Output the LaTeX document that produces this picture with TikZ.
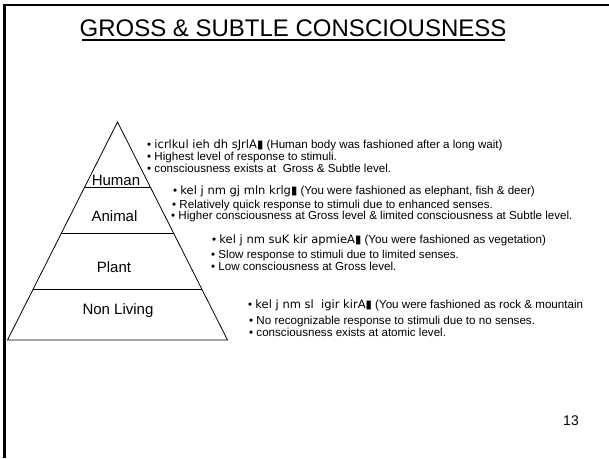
\documentclass[tikz,border=0pt]{standalone}
\usepackage{fontspec}
\setmainfont{Liberation Sans}
\newfontfamily\dvfont{DejaVu Sans}
\usetikzlibrary{calc}
\newcommand{\legacytxt}[1]{{\dvfont\fontsize{11.5}{13}\selectfont #1}}
\begin{document}
\begin{tikzpicture}[x=1pt,y=-1pt,
  body/.style={anchor=west, inner sep=0pt, font=\fontsize{11.6}{13}\selectfont},
  lvl/.style={inner sep=0pt, font=\fontsize{15}{17}\selectfont},
  pyr/.style={line width=0.8pt}]
\useasboundingbox (0,0) rectangle (609,458);
\fill[white] (0,0) rectangle (609,458);
% frame
\draw[line width=2pt] (3,4.5) -- (609,4.5);
\draw[line width=2.4pt] (4.5,3.5) -- (4.5,458);
% title
\node[inner sep=0pt, font=\fontsize{24}{28}\selectfont] (title) at (293,28) {GROSS \& SUBTLE CONSCIOUSNESS};
\draw[line width=1.5pt] (81.5,40) -- (505,40);
% pyramid
\coordinate (A) at (117.5,122);
\coordinate (BL) at (7.5,340);
\coordinate (BR) at (227.5,340);
\draw[pyr] (BL) -- (A) -- (BR) -- cycle;
\draw[pyr] ($(A)!0.2982!(BL)$) -- ($(A)!0.2982!(BR)$);
\draw[pyr] ($(A)!0.5092!(BL)$) -- ($(A)!0.5092!(BR)$);
\draw[pyr] ($(A)!0.7674!(BL)$) -- ($(A)!0.7674!(BR)$);
\node[lvl] (human) at (116,180.5) {Human};
\node[lvl] (animal) at (114.5,216) {Animal};
\node[lvl] (plant) at (114,267) {Plant};
\node[lvl] (nonliving) at (118,311) {Non Living};
% group 1
\node[body] (h1) at (147,145) {• \legacytxt{icrlkul\ ieh dh sJrlA▮} (Human body was fashioned after a long wait)};
\node[body] (h2) at (147,157) {• Highest level of response to stimuli.};
\node[body] (h3) at (147,168) {• consciousness exists at \ Gross \& Subtle level.};
% group 2
\node[body] (a1) at (173,191) {• \legacytxt{kel\ j nm gj mln krlg▮} (You were fashioned as elephant, fish \& deer)};
\node[body] (a2) at (172,205) {• Relatively quick response to stimuli due to enhanced senses.};
\node[body] (a3) at (171,216) {• Higher consciousness at Gross level \& limited consciousness at Subtle level.};
% group 3
\node[body] (p1) at (212,240) {• \legacytxt{kel\ j nm suK kir apmieA▮} (You were fashioned as vegetation)};
\node[body] (p2) at (211,255) {• Slow response to stimuli due to limited senses.};
\node[body] (p3) at (211,266) {• Low consciousness at Gross level.};
% group 4
\node[body] (n1) at (248,305) {• \legacytxt{kel\ j nm sl\ \ igir kirA▮} (You were fashioned as rock \& mountain};
\node[body] (n2) at (249,321) {• No recognizable response to stimuli due to no senses.};
\node[body] (n3) at (249,332) {• consciousness exists at atomic level.};
% page number
\node[inner sep=0pt, font=\fontsize{14}{16}\selectfont] (pg) at (571,421) {13};
\end{tikzpicture}
\end{document}
